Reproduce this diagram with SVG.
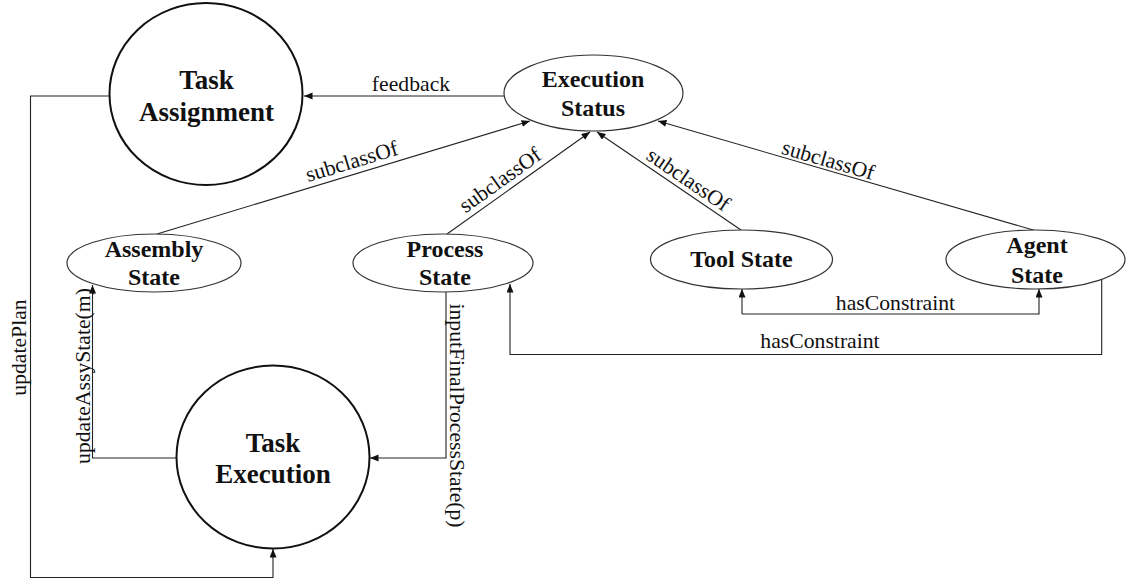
<svg xmlns="http://www.w3.org/2000/svg" width="1126" height="581" viewBox="0 0 1126 581">
  <defs>
    <marker id="arrow" markerUnits="userSpaceOnUse" markerWidth="10" markerHeight="8" refX="8.5" refY="3.5" orient="auto">
      <path d="M0,0 L8.5,3.5 L0,7 Z" fill="#111"/>
    </marker>
    <style>
      .big { fill: #fff; stroke: #111; stroke-width: 2; }
      .state { fill: #fff; stroke: #333; stroke-width: 1.2; }
      .node-big { font-family: "Liberation Serif", "Times New Roman", serif; font-weight: bold; font-size: 27px; fill: #111; text-anchor: middle; }
      .node { font-family: "Liberation Serif", "Times New Roman", serif; font-weight: bold; font-size: 24px; fill: #111; text-anchor: middle; }
      .edge { fill: none; stroke: #222; stroke-width: 1.1; }
      .label { font-family: "Liberation Serif", "Times New Roman", serif; font-size: 21.7px; fill: #111; text-anchor: middle; }
    </style>
  </defs>

  <rect width="1126" height="581" fill="#fff"/>

  <!-- connectors -->
  <g id="connectors">
    <!-- feedback -->
    <line class="edge" x1="504" y1="96" x2="304" y2="96" marker-end="url(#arrow)"/>
    <text class="label" x="411" y="91">feedback</text>

    <!-- subclassOf edges -->
    <line class="edge" x1="157" y1="234" x2="530" y2="121" marker-end="url(#arrow)"/>
    <text class="label" transform="translate(355.5,174) rotate(-16.85)" y="-6">subclassOf</text>

    <line class="edge" x1="447" y1="234" x2="590" y2="132" marker-end="url(#arrow)"/>
    <text class="label" transform="translate(507.7,190.7) rotate(-35.5)" y="-6">subclassOf</text>

    <line class="edge" x1="741" y1="230" x2="597" y2="132" marker-end="url(#arrow)"/>
    <text class="label" transform="translate(681.5,189.5) rotate(34.2)" y="-5">subclassOf</text>

    <line class="edge" x1="1036.7" y1="231" x2="658" y2="121" marker-end="url(#arrow)"/>
    <text class="label" transform="translate(825.4,169.7) rotate(16.2)" y="-3">subclassOf</text>

    <!-- hasConstraint between Tool State and Agent State -->
    <polyline class="edge" points="742,314 1039,314 1039,289" marker-end="url(#arrow)"/>
    <line class="edge" x1="742" y1="314" x2="742" y2="289" marker-end="url(#arrow)"/>
    <text class="label" x="895.5" y="310">hasConstraint</text>

    <!-- hasConstraint from Agent State to Process State -->
    <polyline class="edge" points="1101.7,280 1101.7,354.5 510,354.5 510,284" marker-end="url(#arrow)"/>
    <text class="label" x="820" y="348">hasConstraint</text>

    <!-- updatePlan -->
    <polyline class="edge" points="110,96 30.5,96 30.5,577.5 273,577.5 273,549" marker-end="url(#arrow)"/>
    <text class="label" transform="translate(26,347.5) rotate(-90)">updatePlan</text>

    <!-- updateAssyState(m) -->
    <polyline class="edge" points="176.5,458 92.5,458 92.5,285" marker-end="url(#arrow)"/>
    <text class="label" transform="translate(90,376) rotate(-90)">updateAssyState(m)</text>

    <!-- inputFinalProcessState(p) -->
    <polyline class="edge" points="446,292 446,458 370,458" marker-end="url(#arrow)"/>
    <text class="label" transform="translate(450,415.5) rotate(90)">inputFinalProcessState(p)</text>
  </g>

  <!-- nodes -->
  <g id="task-assignment">
    <ellipse class="big" cx="206" cy="94" rx="96.5" ry="91"/>
    <text class="node-big" x="206.5" y="89">Task</text>
    <text class="node-big" x="206.5" y="121">Assignment</text>
  </g>

  <g id="execution-status">
    <ellipse class="state" cx="593.5" cy="93" rx="89.5" ry="38"/>
    <text class="node" x="593" y="87">Execution</text>
    <text class="node" x="593" y="116">Status</text>
  </g>

  <g id="assembly-state">
    <ellipse class="state" cx="154" cy="263" rx="87" ry="29"/>
    <text class="node" x="154" y="257">Assembly</text>
    <text class="node" x="154" y="285">State</text>
  </g>

  <g id="process-state">
    <ellipse class="state" cx="443" cy="263" rx="90" ry="29"/>
    <text class="node" x="445" y="257">Process</text>
    <text class="node" x="445" y="285">State</text>
  </g>

  <g id="tool-state">
    <ellipse class="state" cx="741.5" cy="259.5" rx="91" ry="29.5"/>
    <text class="node" x="741.5" y="267">Tool State</text>
  </g>

  <g id="agent-state">
    <ellipse class="state" cx="1035.5" cy="259.5" rx="89.5" ry="29.5"/>
    <text class="node" x="1037" y="253">Agent</text>
    <text class="node" x="1037" y="283">State</text>
  </g>

  <g id="task-execution">
    <ellipse class="big" cx="273" cy="457" rx="96.5" ry="91.5"/>
    <text class="node-big" x="273" y="452">Task</text>
    <text class="node-big" x="273" y="483">Execution</text>
  </g>
</svg>
